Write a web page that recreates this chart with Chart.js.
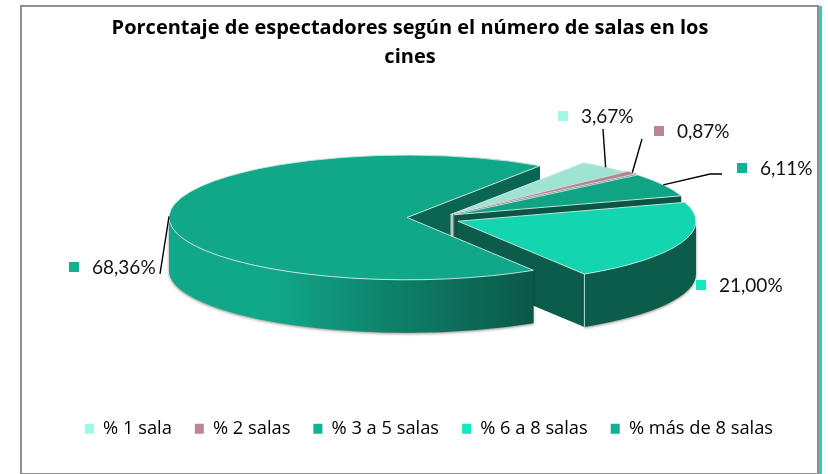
<!DOCTYPE html>
<html><head><meta charset="utf-8">
<script src="https://cdn.jsdelivr.net/npm/chart.js@4/dist/chart.umd.min.js"></script>
<style>
html,body{margin:0;padding:0;background:#fff;width:828px;height:474px;overflow:hidden}
#band{position:absolute;left:817px;top:6px;width:5px;height:468px;background:#1fd8b2}
#band2{position:absolute;left:21px;top:473px;width:801px;height:1px;background:#1fd8b2}
#frame{position:absolute;left:20px;top:5px;width:795px;height:466px;border:2px solid #8e8e8e;background:#fff}
#wrap{position:absolute;left:0;top:0;width:828px;height:474px}
</style></head><body>
<div id="band"></div><div id="band2"></div><div id="frame"></div>
<div id="wrap"><canvas id="c" width="828" height="474"></canvas></div>
<script>
const titleLines = ['Porcentaje de espectadores según el número de salas en los', 'cines'];
const categories = ['% 1 sala', '% 2 salas', '% 3 a 5 salas', '% 6 a 8 salas', '% más de 8 salas'];
const values = [3.67, 0.87, 6.11, 21.00, 68.36];
const legendColors = ['#a0f8e4', '#bb8497', '#0fb394', '#14e8bf', '#0fb394'];
const topColors = ['#9fe3d2', '#b58494', '#10a384', '#13d6b0', '#10a888'];
const wallColors = ['#b8c8c4', '#8d6a76', '#0a5544', '#0b5c4a', '#10a888'];
const explode = [5.7, 8.4, 8.5, 11.7, 40];
// label text anchor (marker left, centre y) and leader elbow points
const labelPos = [[558, 116], [654, 131], [737, 168], [696, 285], [69, 267]];
const leaderEnds = [[[603, 129]], [[642, 139]], [[710, 174], [722, 174]], [], [[160, 274]]];

const PIE = {x: 447, y: 218, squash: 0.262, depth: 53};
const FONT = 'Lato, Carlito, sans-serif';
const WIDE_FONT = '"Open Sans", Lato, sans-serif';

function geom(el, i) {
  const p = el.getProps(['x', 'y', 'startAngle', 'endAngle', 'outerRadius']);
  const mid = (p.startAngle + p.endAngle) / 2;
  const d = explode[i];
  return {
    ax: PIE.x + Math.cos(mid) * d,
    ay: PIE.y + Math.sin(mid) * d * 0.8,
    rx: p.outerRadius, ry: p.outerRadius * PIE.squash,
    a0: p.startAngle, a1: p.endAngle, mid, x: p.x, y: p.y
  };
}
function edge(g, a) { return [g.ax + Math.cos(a) * g.rx, g.ay + Math.sin(a) * g.ry]; }

function drawCuts(ctx, g, color) {
  [g.a0, g.a1].forEach(a => {
    const e = edge(g, a);
    ctx.beginPath();
    ctx.moveTo(g.ax, g.ay); ctx.lineTo(e[0], e[1]);
    ctx.lineTo(e[0], e[1] + PIE.depth); ctx.lineTo(g.ax, g.ay + PIE.depth);
    ctx.closePath();
    ctx.fillStyle = color; ctx.fill();
  });
}
function drawOuter(ctx, g, color, gradient) {
  const s = Math.max(g.a0, 0), t = Math.min(g.a1, Math.PI);
  if (t <= s) return;
  ctx.save();
  ctx.shadowColor = 'rgba(0,0,0,0.45)'; ctx.shadowBlur = 3; ctx.shadowOffsetY = 1;
  ctx.beginPath();
  ctx.ellipse(g.ax, g.ay, g.rx, g.ry, 0, s, t);
  ctx.ellipse(g.ax, g.ay + PIE.depth, g.rx, g.ry, 0, t, s, true);
  ctx.closePath();
  if (gradient) {
    const l = g.ax - g.rx, r = edge(g, s)[0];
    const gr = ctx.createLinearGradient(l, 0, r, 0);
    gr.addColorStop(0, '#10a888'); gr.addColorStop(0.28, '#10a888');
    gr.addColorStop(0.45, '#0f947a'); gr.addColorStop(0.62, '#0e8069');
    gr.addColorStop(0.82, '#0c6a57'); gr.addColorStop(1, '#0a5846');
    ctx.fillStyle = gr;
  } else ctx.fillStyle = color;
  ctx.fill();
  ctx.restore();
}
function drawTop(ctx, el, g) {
  ctx.save();
  ctx.translate(g.ax, g.ay); ctx.scale(1, PIE.squash); ctx.translate(-g.x, -g.y);
  el.draw(ctx);
  ctx.restore();
  ctx.save();
  ctx.strokeStyle = 'rgba(205,232,226,0.9)'; ctx.lineWidth = 1;
  ctx.beginPath();
  ctx.moveTo(g.ax, g.ay);
  ctx.ellipse(g.ax, g.ay, g.rx, g.ry, 0, g.a0, g.a1);
  ctx.closePath(); ctx.stroke();
  if (g.a1 > 0 && g.a1 < Math.PI) {
    const e = edge(g, g.a1);
    ctx.beginPath(); ctx.moveTo(e[0], e[1]); ctx.lineTo(e[0], e[1] + PIE.depth); ctx.stroke();
  }
  ctx.restore();
}

const pie3d = {
  id: 'pie3d',
  afterLayout(chart) { chart.titleBlock.left -= 19; chart.titleBlock.right -= 19; },
  beforeDatasetDraw(chart, args) {
    const ctx = chart.ctx, els = args.meta.data;
    const gs = els.map((el, i) => geom(el, i));
    const big = values.indexOf(Math.max(...values));
    drawCuts(ctx, gs[big], '#0a6652');
    els.forEach((el, i) => {
      if (i !== big) drawCuts(ctx, gs[i], wallColors[i]);
      drawOuter(ctx, gs[i], wallColors[i], i === big);
      drawTop(ctx, el, gs[i]);
    });
    return false;
  },
  afterDraw(chart) {
    const ctx = chart.ctx, els = chart.getDatasetMeta(0).data;
    els.forEach((el, i) => {
      const g = geom(el, i), e = edge(g, g.mid), pts = leaderEnds[i];
      if (pts.length) {
        ctx.save(); ctx.strokeStyle = '#000'; ctx.lineWidth = 1.4;
        ctx.beginPath(); ctx.moveTo(e[0], e[1]);
        pts.forEach(p => ctx.lineTo(p[0], p[1]));
        ctx.stroke(); ctx.restore();
      }
      const [mx, my] = labelPos[i];
      ctx.fillStyle = legendColors[i];
      ctx.fillRect(mx, my - 5, 10, 10);
      ctx.fillStyle = '#111';
      ctx.font = '19px ' + FONT;
      ctx.textBaseline = 'middle'; ctx.textAlign = 'left';
      ctx.fillText(values[i].toFixed(2).replace('.', ',') + '%', mx + 23, my + 1);
    });
  }
};

new Chart(document.getElementById('c'), {
  type: 'pie',
  data: {
    labels: categories,
    datasets: [{ data: values, backgroundColor: topColors, borderWidth: 0 }]
  },
  options: {
    responsive: false,
    animation: false,
    events: [],
    rotation: 34,
    radius: 238,
    layout: { padding: { left: 30, right: 0, top: 0, bottom: 26 } },
    plugins: {
      tooltip: { enabled: false },
      title: {
        display: true, text: titleLines, color: '#000',
        font: { family: WIDE_FONT, size: 20, weight: 'bold', lineHeight: 1.45 },
        padding: { top: 14, bottom: 8 }
      },
      legend: {
        position: 'bottom',
        labels: {
          font: { family: WIDE_FONT, size: 18.3 }, color: '#111',
          boxWidth: 9, boxHeight: 10, padding: 23,
          generateLabels: () => categories.map((t, i) => ({
            text: t, fillStyle: legendColors[i], strokeStyle: legendColors[i], lineWidth: 0, index: i, hidden: false
          }))
        }
      }
    }
  },
  plugins: [pie3d]
});
</script>
</body></html>
